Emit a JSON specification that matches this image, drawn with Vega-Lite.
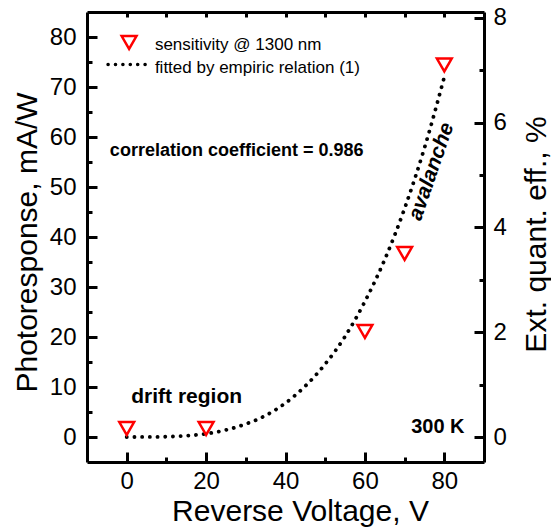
{
  "$schema": "https://vega.github.io/schema/vega-lite/v6.json",
  "width": 397,
  "height": 450,
  "autosize": {"type": "none"},
  "padding": {"left": 87, "top": 12, "right": 67, "bottom": 65},
  "background": "white",
  "data": {"values": [{}]},
  "config": {
    "view": {"stroke": null},
    "font": "Liberation Sans",
    "axis": {
      "grid": false,
      "domainColor": "black",
      "domainWidth": 3,
      "tickColor": "black",
      "tickWidth": 3,
      "labelColor": "black",
      "labelFont": "Liberation Sans",
      "labelFontSize": 24,
      "titleFont": "Liberation Sans",
      "titleFontSize": 30,
      "titleFontWeight": "normal",
      "titleColor": "black",
      "labelOverlap": false,
      "labelFlush": false
    }
  },
  "resolve": {
    "scale": {"y": "independent"},
    "axis": {"x": "independent", "y": "independent"}
  },
  "layer": [
    {
      "data": {
        "values": [
          {"V": 0, "R": 0},
          {"V": 5, "R": 0.01},
          {"V": 10, "R": 0.06},
          {"V": 15, "R": 0.24},
          {"V": 20, "R": 0.65},
          {"V": 25, "R": 1.4},
          {"V": 30, "R": 2.6},
          {"V": 35, "R": 4.3},
          {"V": 40, "R": 6.8},
          {"V": 45, "R": 10.2},
          {"V": 50, "R": 14.6},
          {"V": 55, "R": 20.1},
          {"V": 60, "R": 27.1},
          {"V": 65, "R": 35.5},
          {"V": 70, "R": 45.7},
          {"V": 75, "R": 57.8},
          {"V": 80, "R": 72}
        ]
      },
      "mark": {
        "type": "line",
        "color": "black",
        "strokeWidth": 3.8,
        "strokeDash": [0.1, 7.6],
        "strokeCap": "round",
        "interpolate": "monotone"
      },
      "encoding": {
        "x": {
          "field": "V",
          "type": "quantitative",
          "scale": {"domain": [-10, 90], "nice": false, "zero": false},
          "axis": {
            "orient": "bottom",
            "values": [0, 20, 40, 60, 80],
            "ticks": false,
            "labelPadding": 7,
            "title": "Reverse Voltage, V",
            "titleX": 213,
            "titleY": 58,
            "titleAngle": 0,
            "titleAlign": "center",
            "titleBaseline": "alphabetic"
          }
        },
        "y": {
          "field": "R",
          "type": "quantitative",
          "scale": {"domain": [-5, 85], "nice": false, "zero": false},
          "axis": {
            "orient": "left",
            "values": [0, 10, 20, 30, 40, 50, 60, 70, 80],
            "ticks": false,
            "labelPadding": 11,
            "title": "Photoresponse, mA/W",
            "titleX": -51,
            "titleY": 230,
            "titleAngle": 270,
            "titleAlign": "center",
            "titleBaseline": "alphabetic"
          }
        }
      }
    },
    {
      "data": {
        "values": [
          {"V": 0, "R": 1.7},
          {"V": 20, "R": 1.7},
          {"V": 60, "R": 21.1},
          {"V": 70, "R": 36.7},
          {"V": 80, "R": 74.4}
        ]
      },
      "mark": {
        "type": "point",
        "shape": "triangle-down",
        "filled": false,
        "stroke": "#ff0000",
        "strokeWidth": 2.5,
        "size": 220,
        "opacity": 1
      },
      "encoding": {
        "x": {"field": "V", "type": "quantitative", "scale": {"domain": [-10, 90], "nice": false, "zero": false}, "axis": null},
        "y": {"field": "R", "type": "quantitative", "scale": {"domain": [-5, 85], "nice": false, "zero": false}, "axis": null}
      }
    },
    {
      "mark": {"type": "point", "opacity": 0},
      "encoding": {
        "x": {
          "datum": 0,
          "type": "quantitative",
          "scale": {"domain": [-10, 90], "nice": false, "zero": false},
          "axis": {"orient": "top", "offset": -450, "values": [0, 20, 40, 60, 80], "tickSize": 10, "labels": false, "domain": false, "title": null}
        },
        "y": {
          "datum": 0,
          "type": "quantitative",
          "scale": {"domain": [-5, 85], "nice": false, "zero": false},
          "axis": {"orient": "right", "offset": -397, "values": [0, 10, 20, 30, 40, 50, 60, 70, 80], "tickSize": 10, "labels": false, "domain": false, "title": null}
        }
      }
    },
    {
      "mark": {"type": "point", "opacity": 0},
      "encoding": {
        "x": {
          "datum": 0,
          "type": "quantitative",
          "scale": {"domain": [-10, 90], "nice": false, "zero": false},
          "axis": {"orient": "top", "offset": -450, "values": [10, 30, 50, 70], "tickSize": 5, "labels": false, "domain": false, "title": null}
        },
        "y": {
          "datum": 0,
          "type": "quantitative",
          "scale": {"domain": [-5, 85], "nice": false, "zero": false},
          "axis": {"orient": "right", "offset": -397, "values": [5, 15, 25, 35, 45, 55, 65, 75], "tickSize": 5, "labels": false, "domain": false, "title": null}
        }
      }
    },
    {
      "mark": {"type": "point", "opacity": 0},
      "encoding": {
        "x": {
          "datum": 0,
          "type": "quantitative",
          "scale": {"domain": [-10, 90], "nice": false, "zero": false},
          "axis": {"orient": "bottom", "offset": -450, "values": [0, 10, 20, 30, 40, 50, 60, 70, 80], "tickSize": 5, "labels": false, "domain": true, "title": null}
        },
        "y": {
          "datum": 0,
          "type": "quantitative",
          "scale": {"domain": [-0.477, 8.109], "nice": false, "zero": false},
          "axis": {
            "orient": "right",
            "values": [0, 2, 4, 6, 8],
            "ticks": false,
            "labelPadding": 9,
            "title": "Ext. quant. eff., %",
            "titleX": 61,
            "titleY": 222,
            "titleAngle": 270,
            "titleAlign": "center",
            "titleBaseline": "alphabetic"
          }
        }
      }
    },
    {
      "mark": {"type": "point", "opacity": 0},
      "encoding": {
        "x": {"datum": 0, "type": "quantitative", "scale": {"domain": [-10, 90], "nice": false, "zero": false}, "axis": null},
        "y": {
          "datum": 0,
          "type": "quantitative",
          "scale": {"domain": [-0.477, 8.109], "nice": false, "zero": false},
          "axis": {"orient": "left", "offset": -397, "values": [0, 2, 4, 6, 8], "tickSize": 10, "labels": false, "domain": false, "title": null}
        }
      }
    },
    {
      "mark": {"type": "point", "opacity": 0},
      "encoding": {
        "x": {"datum": 0, "type": "quantitative", "scale": {"domain": [-10, 90], "nice": false, "zero": false}, "axis": null},
        "y": {
          "datum": 0,
          "type": "quantitative",
          "scale": {"domain": [-0.477, 8.109], "nice": false, "zero": false},
          "axis": {"orient": "left", "offset": -397, "values": [1, 3, 5, 7], "tickSize": 5, "labels": false, "domain": false, "title": null}
        }
      }
    },
    {
      "mark": {"type": "text", "text": "correlation coefficient = 0.986", "font": "Liberation Sans", "fontWeight": "bold", "fontSize": 18, "align": "center", "baseline": "alphabetic", "color": "black"},
      "encoding": {
        "x": {"datum": 27.7, "type": "quantitative", "axis": null},
        "y": {"datum": 56.3, "type": "quantitative", "scale": {"domain": [-5, 85], "nice": false, "zero": false}, "axis": null}
      }
    },
    {
      "mark": {"type": "text", "text": "drift region", "font": "Liberation Sans", "fontWeight": "bold", "fontSize": 21, "align": "center", "baseline": "alphabetic", "color": "black"},
      "encoding": {
        "x": {"datum": 15.1, "type": "quantitative", "axis": null},
        "y": {"datum": 6.8, "type": "quantitative", "scale": {"domain": [-5, 85], "nice": false, "zero": false}, "axis": null}
      }
    },
    {
      "mark": {"type": "text", "text": "300 K", "font": "Liberation Sans", "fontWeight": "bold", "fontSize": 20, "align": "right", "baseline": "alphabetic", "color": "black"},
      "encoding": {
        "x": {"datum": 85.1, "type": "quantitative", "axis": null},
        "y": {"datum": 0.8, "type": "quantitative", "scale": {"domain": [-5, 85], "nice": false, "zero": false}, "axis": null}
      }
    },
    {
      "mark": {"type": "text", "text": "avalanche", "font": "Liberation Sans", "fontWeight": "bold", "fontStyle": "italic", "fontSize": 21, "align": "center", "baseline": "middle", "angle": -71, "color": "black"},
      "encoding": {
        "x": {"datum": 76.8, "type": "quantitative", "axis": null},
        "y": {"datum": 53.1, "type": "quantitative", "scale": {"domain": [-5, 85], "nice": false, "zero": false}, "axis": null}
      }
    },
    {
      "mark": {"type": "point", "shape": "triangle-down", "filled": false, "stroke": "#ff0000", "strokeWidth": 2.5, "size": 220, "opacity": 1},
      "encoding": {
        "x": {"datum": 0.6, "type": "quantitative", "axis": null},
        "y": {"datum": 78.9, "type": "quantitative", "scale": {"domain": [-5, 85], "nice": false, "zero": false}, "axis": null}
      }
    },
    {
      "mark": {"type": "rule", "color": "black", "strokeWidth": 3.5, "strokeDash": [0.1, 7.3], "strokeCap": "round"},
      "encoding": {
        "x": {"datum": -4.7, "type": "quantitative", "axis": null},
        "x2": {"datum": 6.3},
        "y": {"datum": 74.5, "type": "quantitative", "scale": {"domain": [-5, 85], "nice": false, "zero": false}, "axis": null}
      }
    },
    {
      "mark": {"type": "text", "text": "sensitivity @ 1300 nm", "font": "Liberation Sans", "fontSize": 17, "align": "left", "baseline": "alphabetic", "color": "black"},
      "encoding": {
        "x": {"datum": 7.1, "type": "quantitative", "axis": null},
        "y": {"datum": 77.5, "type": "quantitative", "scale": {"domain": [-5, 85], "nice": false, "zero": false}, "axis": null}
      }
    },
    {
      "mark": {"type": "text", "text": "fitted by empiric relation (1)", "font": "Liberation Sans", "fontSize": 17, "align": "left", "baseline": "alphabetic", "color": "black"},
      "encoding": {
        "x": {"datum": 7.1, "type": "quantitative", "axis": null},
        "y": {"datum": 72.9, "type": "quantitative", "scale": {"domain": [-5, 85], "nice": false, "zero": false}, "axis": null}
      }
    }
  ]
}
